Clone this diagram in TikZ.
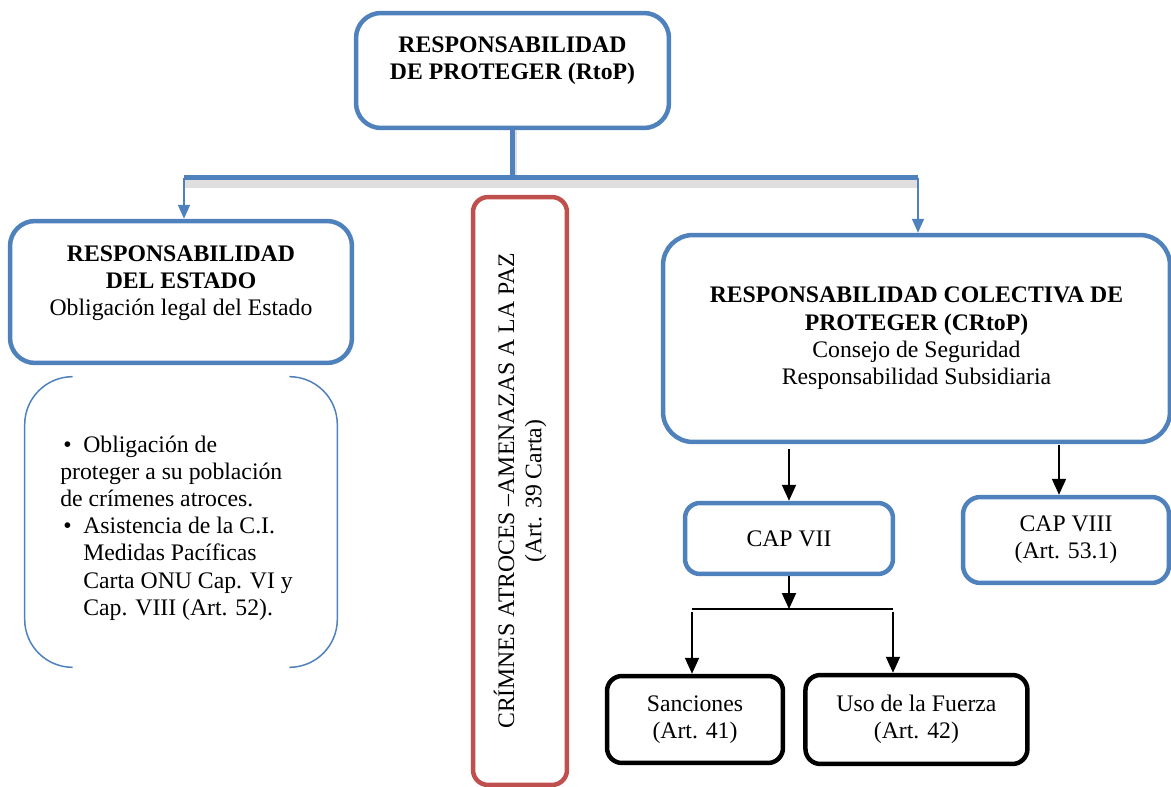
\documentclass[tikz,border=0pt]{standalone}
\usepackage{fontspec}
\setmainfont{Liberation Serif}
\usetikzlibrary{arrows.meta, positioning}
\definecolor{rtopblue}{RGB}{79, 129, 189}
\definecolor{rtopred}{RGB}{192, 80, 77}
\newcommand{\bul}{\makebox[0.46cm][l]{\hspace{0.06cm}\textbullet}}
\newcommand{\ind}{\hspace*{0.46cm}}

\begin{document}
\begin{tikzpicture}[x=0.02cm, y=-0.02cm, font=\fontsize{13.5}{15.5}\selectfont,
    bluebox/.style={draw=rtopblue, line width=0.09cm, rounded corners=0.5cm, align=center, inner sep=0pt},
    blackbox/.style={draw=black, line width=0.09cm, rounded corners=0.3cm, align=center, inner sep=0pt},
    redbox/.style={draw=rtopred, line width=0.09cm, rounded corners=0.3cm, align=center, inner sep=0pt},
    bluearr/.style={-{Triangle[length=0.28cm, width=0.24cm]}, rtopblue, line width=0.04cm},
    blkarr/.style={-{Triangle[length=0.32cm, width=0.28cm]}, black, line width=0.04cm}]
    \useasboundingbox (0,0) rectangle (1171,787);

    % top level
    \node[bluebox, minimum width=6.26cm, minimum height=2.3cm] (rtop) at (512.5,70.5) {};
    \node[align=center] (rtoptxt) at (512.5,61) {\textbf{RESPONSABILIDAD}\\\textbf{DE PROTEGER (RtoP)}};

    % branch bar
    \coordinate (barL) at (184,178);
    \coordinate (barR) at (918,178);
    \draw[gray!25, line width=0.16cm] ([yshift=-0.12cm]barL) -- ([yshift=-0.12cm]barR);
    \draw[gray!25, line width=0.06cm] ([xshift=0.06cm]rtop.south) -- ([xshift=0.06cm]rtop.south |- barL);
    \draw[rtopblue, line width=0.1cm] (rtop.south) -- (rtop.south |- barL);
    \draw[rtopblue, line width=0.1cm] (barL) -- (barR);

    % left column
    \node[bluebox, minimum width=6.84cm, minimum height=2.84cm] (estado) at (181,292) {};
    \node[align=center] (estadotxt) at (181,283) {\textbf{RESPONSABILIDAD}\\\textbf{DEL ESTADO}\\Obligación legal del Estado};
    \draw[bluearr] (barL) -- (barL |- estado.north);

    \node[minimum width=6.24cm, minimum height=5.8cm, inner sep=0pt] (oblig) at (181,522) {};
    \draw[rtopblue, line width=0.03cm, rounded corners=0.96cm]
        ([xshift=0.96cm]oblig.north west) -- (oblig.north west) -- (oblig.south west) -- ([xshift=0.96cm]oblig.south west);
    \draw[rtopblue, line width=0.03cm, rounded corners=0.96cm]
        ([xshift=-0.96cm]oblig.north east) -- (oblig.north east) -- (oblig.south east) -- ([xshift=-0.96cm]oblig.south east);
    \node[align=left, anchor=west, inner sep=0pt] (obligtxt) at (60,528) {\bul Obligación de\\proteger a su población\\de crímenes atroces.\\\bul Asistencia de la C.I.\\\ind Medidas Pacíficas\\\ind Carta ONU Cap. VI y\\\ind Cap. VIII (Art. 52).};

    % middle column
    \node[redbox, rotate=90, minimum width=11.76cm, minimum height=1.88cm] (crimenes) at (520,491) {CRÍMNES ATROCES –AMENAZAS A LA PAZ\\(Art. 39 Carta)};

    % right column
    \node[bluebox, rounded corners=0.6cm, minimum width=10.14cm, minimum height=4.14cm] (crtop) at (916.5,338.5) {\textbf{RESPONSABILIDAD COLECTIVA DE}\\\textbf{PROTEGER (CRtoP)}\\Consejo de Seguridad\\Responsabilidad Subsidiaria};
    \draw[bluearr] (barR) -- (barR |- crtop.north);

    \node[bluebox, rounded corners=0.3cm, minimum width=4.16cm, minimum height=1.42cm] (cap7) at (789,538.5) {CAP VII};
    \node[bluebox, rounded corners=0.35cm, minimum width=4.12cm, minimum height=1.72cm] (cap8) at (1066,540) {CAP VIII\\(Art. 53.1)};
    \draw[blkarr, shorten <=0.1cm] (cap7.north |- crtop.south) -- (cap7.north);
    \draw[blkarr, shorten <=0.02cm] ([xshift=-0.14cm]cap8.north |- crtop.south) -- ([xshift=-0.14cm]cap8.north);

    \node[blackbox, minimum width=3.52cm, minimum height=1.74cm] (sanc) at (695,719.5) {Sanciones\\(Art. 41)};
    \node[blackbox, minimum width=4.44cm, minimum height=1.78cm, right=0.36cm of sanc] (fuerza) {Uso de la Fuerza\\(Art. 42)};

    \coordinate (splitL) at (692,609);
    \coordinate (splitR) at (893,609);
    \draw[line width=0.04cm] (splitL) -- (splitR);
    \draw[blkarr] (cap7.south) -- (cap7.south |- splitL);
    \draw[blkarr] ([yshift=-0.06cm]splitL) -- (splitL |- sanc.north);
    \draw[blkarr] ([yshift=-0.06cm]splitR) -- (splitR |- fuerza.north);
\end{tikzpicture}
\end{document}
